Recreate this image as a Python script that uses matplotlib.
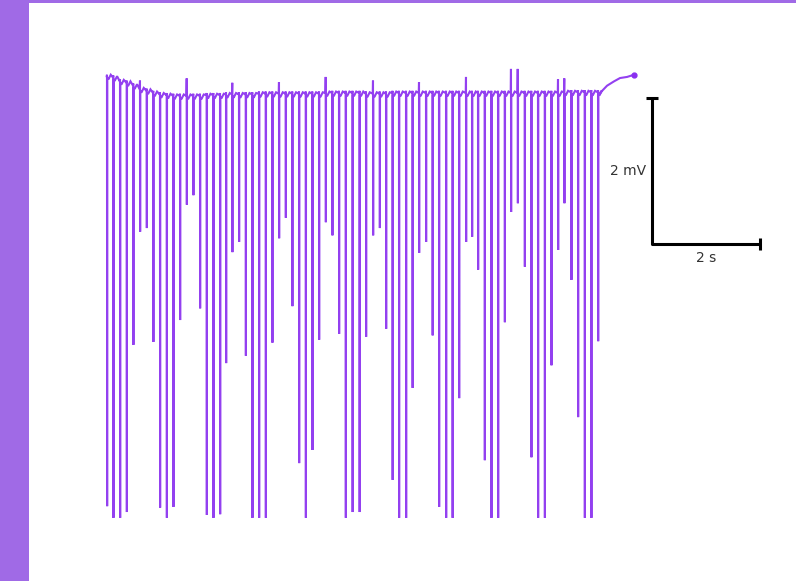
import numpy as np
import matplotlib.pyplot as plt

# spike times (s)
spike_t = [0.000, 0.117, 0.241, 0.365, 0.487, 0.611, 0.735, 0.857, 0.981, 1.106,
           1.228, 1.352, 1.476, 1.598, 1.722, 1.846, 1.969, 2.093, 2.204, 2.320,
           2.444, 2.569, 2.691, 2.815, 2.939, 3.061, 3.185, 3.309, 3.431, 3.556,
           3.680, 3.802, 3.926, 4.050, 4.172, 4.296, 4.420, 4.546, 4.676, 4.796,
           4.926, 5.050, 5.167, 5.287, 5.407, 5.537, 5.657, 5.778, 5.907, 6.028,
           6.148, 6.278, 6.398, 6.519, 6.648, 6.759, 6.870, 6.994, 7.117, 7.241,
           7.365, 7.481, 7.606, 7.735, 7.857, 7.981, 8.106, 8.228, 8.352, 8.468,
           8.598, 8.722, 8.846, 8.968, 9.093]

# level just before each spike (mV)
base = [0.23, 0.21, 0.16, 0.14, 0.10, 0.05, 0.03, 0.00, -0.02, -0.03,
        -0.04, -0.04, -0.04, -0.04, -0.04, -0.03, -0.03, -0.03, -0.02, -0.02,
        -0.02, -0.02, -0.02, -0.01, -0.01, -0.01, -0.01, -0.01, -0.01, -0.01,
        -0.01, -0.01, -0.01, 0.00, 0.00, 0.00, 0.00, 0.00, 0.00, -0.01,
        -0.01, -0.01, -0.01, 0.00, 0.00, 0.00, 0.00, 0.00, 0.00, 0.00,
        0.00, 0.00, 0.00, 0.00, 0.00, 0.00, 0.00, 0.00, 0.00, 0.00,
        0.00, 0.00, 0.00, 0.00, 0.00, 0.00, 0.00, 0.00, 0.00, 0.01,
        0.01, 0.01, 0.01, 0.01, 0.01]

# small upward overshoot at each spike (mV above base)
overshoot = [0.02, 0.03, 0.03, 0.03, 0.03, 0.12, 0.03, 0.03, 0.03, 0.03,
             0.03, 0.03, 0.24, 0.03, 0.03, 0.03, 0.03, 0.03, 0.03, 0.16,
             0.03, 0.03, 0.03, 0.03, 0.03, 0.03, 0.16, 0.03, 0.03, 0.03,
             0.03, 0.03, 0.03, 0.22, 0.03, 0.03, 0.03, 0.03, 0.03, 0.03,
             0.18, 0.03, 0.03, 0.03, 0.03, 0.03, 0.03, 0.15, 0.03, 0.03,
             0.03, 0.03, 0.03, 0.03, 0.22, 0.03, 0.03, 0.03, 0.03, 0.03,
             0.03, 0.33, 0.33, 0.03, 0.03, 0.03, 0.03, 0.03, 0.19, 0.19,
             0.03, 0.03, 0.03, 0.03, 0.03]

# bottom of each spike (mV)
trough = [-5.66, -5.82, -5.82, -5.74, -3.45, -1.90, -1.85, -3.41, -5.68, -5.82,
          -5.67, -3.11, -1.53, -1.40, -2.95, -5.78, -5.82, -5.77, -3.70, -2.18,
          -2.04, -3.60, -5.82, -5.82, -5.82, -3.42, -1.99, -1.71, -2.92, -5.07,
          -5.82, -4.89, -3.38, -1.77, -1.95, -3.30, -5.82, -5.74, -5.74, -3.34,
          -1.95, -1.85, -3.23, -5.30, -5.82, -5.82, -4.04, -2.19, -2.04, -3.32,
          -5.67, -5.82, -5.82, -4.18, -2.04, -1.97, -2.42, -5.03, -5.82, -5.82,
          -3.14, -1.63, -1.51, -2.38, -4.99, -5.82, -5.82, -3.73, -2.15, -1.51,
          -2.56, -4.44, -5.82, -5.82, -3.40]

# slow rise after the train
tail_t = [9.13, 9.26, 9.39, 9.50, 9.63, 9.76]
tail_v = [0.00, 0.10, 0.16, 0.205, 0.22, 0.25]

# build the trace from the spike readings
t, v = [], []
for i in range(len(spike_t)):
    t += [spike_t[i] - 0.004, spike_t[i], spike_t[i] + 0.003, spike_t[i] + 0.006,
          spike_t[i] + 0.025, spike_t[i] + 0.07]
    v += [base[i], base[i] + overshoot[i], trough[i], base[i] - 0.02,
          base[i] - 0.045, base[i] + 0.02]
t += tail_t
v += tail_v

fig = plt.figure(figsize=(7.96, 5.81), dpi=100)
fig.patch.set_facecolor("#a06ae6")
# white panel inside the purple frame
ax = fig.add_axes([29 / 796, 0, 767 / 796, 578 / 581])
ax.set_facecolor("white")
ax.set_xticks([])
ax.set_yticks([])
for s in ax.spines.values():
    s.set_visible(False)

ax.plot(t, v, color="#9340f0", lw=1.5, solid_joinstyle="miter")
ax.plot(tail_t[-1], tail_v[-1], "o", color="#8a30f0", ms=3.5)

# scale bar: 2 s by 2 mV
sx, sy = 10.09, -2.07
ax.plot([sx, sx, sx + 2], [sy + 2, sy, sy], color="black", lw=2.2, solid_capstyle="butt")
ax.plot(sx, sy + 2, marker="_", color="black", ms=8, mew=2.2)
ax.plot(sx + 2, sy, marker="|", color="black", ms=8, mew=2.2)
ax.text(sx - 0.1, sy + 1, "2 mV", ha="right", va="center", fontsize=10, color="#333333")
ax.text(sx + 1, sy - 0.1, "2 s", ha="center", va="top", fontsize=10, color="#333333")

ax.set_xlim(-1.444, 12.759)
ax.set_ylim(-6.685, 1.233)

plt.savefig("out.png", dpi=100, facecolor=fig.get_facecolor())
